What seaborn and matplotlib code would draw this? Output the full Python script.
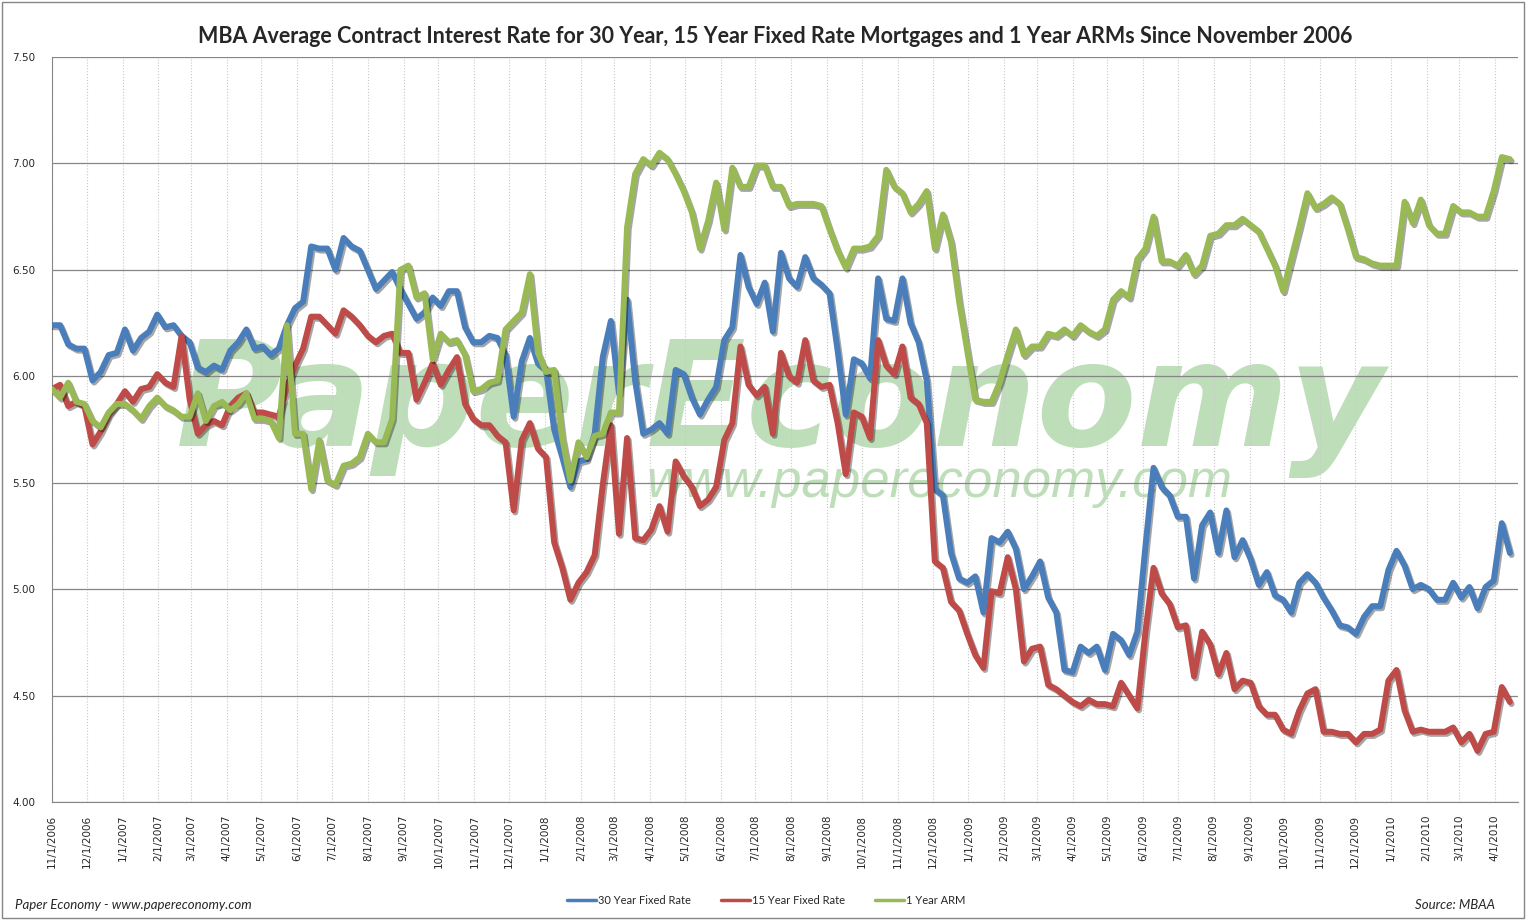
import matplotlib
matplotlib.use("Agg")
import matplotlib.pyplot as plt
import matplotlib.patheffects as pe
from matplotlib.patches import Rectangle
import seaborn as sns
import pandas as pd

# Datos semanales (MBA, desde 11/1/2006)
fijo_30 = [6.24, 6.24, 6.15, 6.13, 6.13, 5.98, 6.02, 6.10, 6.11, 6.22,
           6.12, 6.18, 6.21, 6.29, 6.23, 6.24, 6.19, 6.16, 6.04, 6.02,
           6.05, 6.03, 6.12, 6.16, 6.22, 6.13, 6.14, 6.10, 6.13, 6.24,
           6.32, 6.35, 6.61, 6.60, 6.60, 6.50, 6.65, 6.61, 6.59, 6.50,
           6.41, 6.45, 6.49, 6.41, 6.34, 6.27, 6.30, 6.37, 6.33, 6.40,
           6.40, 6.23, 6.16, 6.16, 6.19, 6.18, 6.10, 5.81, 6.07, 6.18,
           6.06, 6.03, 5.75, 5.62, 5.48, 5.60, 5.61, 5.73, 6.09, 6.26,
           5.92, 6.36, 5.98, 5.73, 5.75, 5.78, 5.73, 6.03, 6.01, 5.90,
           5.82, 5.89, 5.95, 6.17, 6.23, 6.57, 6.42, 6.34, 6.44, 6.21,
           6.58, 6.46, 6.42, 6.56, 6.46, 6.43, 6.39, 6.12, 5.82, 6.08,
           6.06, 5.99, 6.46, 6.27, 6.26, 6.46, 6.25, 6.16, 5.98, 5.47,
           5.44, 5.17, 5.05, 5.03, 5.06, 4.89, 5.24, 5.22, 5.27, 5.19,
           5.00, 5.06, 5.13, 4.96, 4.89, 4.62, 4.61, 4.73, 4.70, 4.73,
           4.62, 4.79, 4.76, 4.69, 4.80, 5.20, 5.57, 5.48, 5.44, 5.34,
           5.34, 5.05, 5.30, 5.36, 5.17, 5.37, 5.15, 5.23, 5.14, 5.02,
           5.08, 4.97, 4.95, 4.89, 5.03, 5.07, 5.03, 4.96, 4.90, 4.83,
           4.82, 4.79, 4.87, 4.92, 4.92, 5.09, 5.18, 5.11, 5.00, 5.02,
           5.00, 4.95, 4.95, 5.03, 4.96, 5.01, 4.91, 5.01, 5.04, 5.31,
           5.17]

fijo_15 = [5.94, 5.96, 5.86, 5.88, 5.86, 5.68, 5.74, 5.82, 5.87, 5.93,
           5.88, 5.94, 5.95, 6.01, 5.97, 5.95, 6.19, 5.89, 5.73, 5.77,
           5.79, 5.77, 5.86, 5.90, 5.92, 5.83, 5.83, 5.82, 5.81, 5.95,
           6.05, 6.13, 6.28, 6.28, 6.24, 6.20, 6.31, 6.28, 6.24, 6.19,
           6.16, 6.19, 6.20, 6.11, 6.11, 5.89, 5.97, 6.06, 5.96, 6.03,
           6.09, 5.87, 5.80, 5.77, 5.77, 5.72, 5.69, 5.37, 5.70, 5.78,
           5.66, 5.62, 5.22, 5.10, 4.95, 5.03, 5.08, 5.16, 5.49, 5.77,
           5.26, 5.71, 5.24, 5.23, 5.28, 5.39, 5.27, 5.60, 5.53, 5.48,
           5.39, 5.42, 5.48, 5.70, 5.78, 6.14, 5.96, 5.91, 5.95, 5.73,
           6.11, 6.00, 5.97, 6.17, 5.98, 5.95, 5.96, 5.78, 5.54, 5.83,
           5.81, 5.71, 6.17, 6.05, 6.01, 6.14, 5.90, 5.87, 5.78, 5.13,
           5.10, 4.94, 4.90, 4.79, 4.69, 4.63, 4.99, 4.98, 5.15, 5.00,
           4.66, 4.72, 4.73, 4.55, 4.53, 4.50, 4.47, 4.45, 4.48, 4.46,
           4.46, 4.45, 4.56, 4.50, 4.44, 4.80, 5.10, 4.98, 4.93, 4.82,
           4.83, 4.59, 4.80, 4.74, 4.60, 4.70, 4.53, 4.57, 4.56, 4.45,
           4.41, 4.41, 4.34, 4.32, 4.43, 4.51, 4.53, 4.33, 4.33, 4.32,
           4.32, 4.28, 4.32, 4.32, 4.34, 4.57, 4.62, 4.43, 4.33, 4.34,
           4.33, 4.33, 4.33, 4.35, 4.28, 4.32, 4.24, 4.32, 4.33, 4.54,
           4.47]

arm_1 = [5.94, 5.90, 5.97, 5.88, 5.87, 5.79, 5.76, 5.83, 5.87, 5.87,
         5.84, 5.80, 5.86, 5.90, 5.86, 5.84, 5.81, 5.81, 5.92, 5.79,
         5.86, 5.88, 5.84, 5.87, 5.92, 5.80, 5.80, 5.79, 5.71, 6.24,
         5.73, 5.73, 5.47, 5.70, 5.51, 5.49, 5.58, 5.59, 5.62, 5.73,
         5.69, 5.69, 5.80, 6.50, 6.52, 6.37, 6.39, 6.08, 6.20, 6.16,
         6.17, 6.10, 5.93, 5.94, 5.97, 5.98, 6.22, 6.26, 6.30, 6.48,
         6.11, 6.02, 6.03, 5.71, 5.51, 5.69, 5.62, 5.72, 5.73, 5.83,
         5.83, 6.70, 6.95, 7.02, 6.99, 7.05, 7.02, 6.95, 6.87, 6.77,
         6.60, 6.73, 6.91, 6.69, 6.98, 6.89, 6.89, 6.99, 6.99, 6.89,
         6.89, 6.80, 6.81, 6.81, 6.81, 6.80, 6.69, 6.59, 6.51, 6.60,
         6.60, 6.61, 6.66, 6.97, 6.89, 6.86, 6.77, 6.81, 6.87, 6.60,
         6.76, 6.63, 6.35, 6.12, 5.89, 5.88, 5.88, 5.97, 6.10, 6.22,
         6.10, 6.14, 6.14, 6.20, 6.19, 6.22, 6.19, 6.24, 6.21, 6.19,
         6.22, 6.36, 6.40, 6.37, 6.55, 6.60, 6.75, 6.54, 6.54, 6.52,
         6.57, 6.48, 6.52, 6.66, 6.67, 6.71, 6.71, 6.74, 6.71, 6.68,
         6.60, 6.52, 6.40, 6.55, 6.70, 6.86, 6.79, 6.81, 6.84, 6.81,
         6.69, 6.56, 6.55, 6.53, 6.52, 6.52, 6.52, 6.82, 6.72, 6.83,
         6.71, 6.67, 6.67, 6.80, 6.77, 6.77, 6.75, 6.75, 6.87, 7.03,
         7.02]

series = ["30 Year Fixed Rate", "15 Year Fixed Rate", "1 Year ARM"]
colores = ["#4a7ebb", "#be4b48", "#98b954"]
fechas = pd.date_range("2006-11-01", periods=len(fijo_30), freq="7D")

df = pd.DataFrame({"Fecha": fechas, series[0]: fijo_30, series[1]: fijo_15, series[2]: arm_1})
df_largo = df.melt(id_vars="Fecha", var_name="Serie", value_name="Tasa")

sns.set_style("white")
plt.rcParams["font.family"] = ["DejaVu Sans"]

fig = plt.figure(figsize=(15.27, 9.21), dpi=100)
ax = fig.add_axes([52 / 1527, 1 - 802 / 921, (1518 - 52) / 1527, (802 - 57) / 921])

# Marca de agua
ax.text(0.497, 0.478, "PaperEconomy", transform=ax.transAxes, ha="center", va="baseline",
        fontsize=105, fontweight="bold", style="italic", family="DejaVu Sans",
        color="#a9d3a3", alpha=0.75, zorder=0)
ax.text(0.605, 0.41, "www.papereconomy.com", transform=ax.transAxes, ha="center", va="baseline",
        fontsize=38, style="italic", family="Liberation Sans",
        color="#a9d3a3", alpha=0.75, zorder=0)

sns.lineplot(data=df_largo, x="Fecha", y="Tasa", hue="Serie", hue_order=series,
             palette=colores, linewidth=4.3, ax=ax, zorder=3,
             path_effects=[pe.SimpleLineShadow(offset=(1.2, -1.5), alpha=0.35), pe.Normal()])

ax.set_ylim(4.0, 7.5)
ax.set_yticks([4.0, 4.5, 5.0, 5.5, 6.0, 6.5, 7.0, 7.5])
ax.yaxis.set_major_formatter(plt.FormatStrFormatter("%.2f"))
ax.set_xlim(pd.Timestamp("2006-11-01"), pd.Timestamp("2010-04-21"))
meses = pd.date_range("2006-11-01", "2010-04-01", freq="MS")
ax.set_xticks(meses)
ax.set_xticklabels([f"{d.month}/1/{d.year}" for d in meses], rotation=90)
ax.tick_params(axis="x", labelsize=7.5, length=3, color="#868686", pad=6)
ax.tick_params(axis="y", labelsize=7.5, length=0, pad=12)

ax.grid(axis="y", color="#868686", linewidth=0.9, zorder=1)
ax.grid(axis="x", color="#c8c8c8", linestyle=":", linewidth=0.8, zorder=1)
ax.set_axisbelow(True)
for lado in ["top", "right"]:
    ax.spines[lado].set_visible(False)
for lado in ["left", "bottom"]:
    ax.spines[lado].set_color("#868686")
ax.set_xlabel("")
ax.set_ylabel("")

ax.legend(loc="upper center", bbox_to_anchor=(0.487, -0.111), ncol=3, frameon=False,
          prop={"family": "Lato", "size": 8}, handlelength=2.6, handletextpad=0.2,
          columnspacing=2.7)
for linea in ax.get_legend().get_lines():
    linea.set_linewidth(2.5)
    linea.set_path_effects([])

fig.suptitle("MBA Average Contract Interest Rate for 30 Year, 15 Year Fixed Rate Mortgages and 1 Year ARMs Since November 2006",
             x=0.508, y=0.972, fontsize=15.5, fontweight="bold", family="Lato")
fig.text(15 / 1527, 1 - 905 / 921, "Paper Economy - www.papereconomy.com", fontsize=9.5,
         style="italic", family="Lato", va="center")
fig.text(1495 / 1527, 1 - 905 / 921, "Source: MBAA", fontsize=9.5, style="italic",
         family="Lato", ha="right", va="center")
fig.patches.append(Rectangle((0.001, 0.003), 0.997, 0.995, transform=fig.transFigure,
                             fill=False, edgecolor="#868686", linewidth=1))

plt.savefig("out.png", dpi=100)
